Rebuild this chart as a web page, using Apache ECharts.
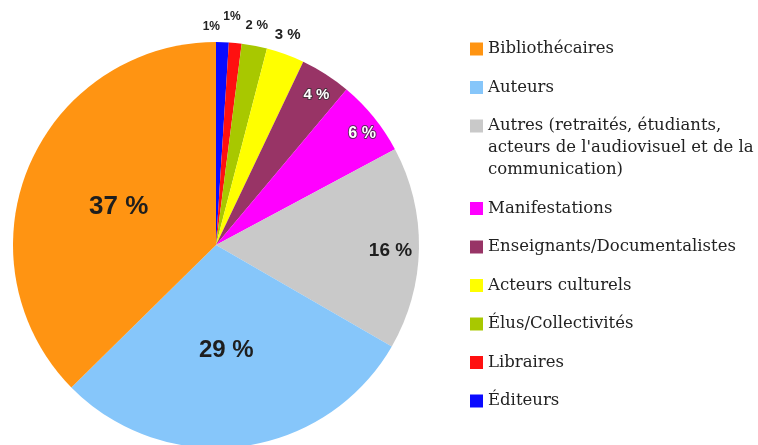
<!DOCTYPE html>
<html>
<head>
<meta charset="utf-8">
<script src="https://cdn.jsdelivr.net/npm/echarts@6/dist/echarts.min.js"></script>
<style>
  html, body { margin: 0; padding: 0; background: #fff; }
  #chart { width: 758px; height: 445px; }
</style>
</head>
<body>
<div id="chart"></div>
<script>
// Categories in clockwise order from 12 o'clock
const categories = [
  'Éditeurs',
  'Libraires',
  'Élus/Collectivités',
  'Acteurs culturels',
  'Enseignants/Documentalistes',
  'Manifestations',
  "Autres (retraités, étudiants,\nacteurs de l'audiovisuel et de la\ncommunication)",
  'Auteurs',
  'Bibliothécaires'
];
const shares = [1, 1, 2, 3, 4, 6, 16, 29, 37];
const colors = ['#0a0aff', '#ff1010', '#a8c800', '#ffff00', '#983466', '#ff00ff', '#c9c9c9', '#86c6fa', '#ff9412'];

// Per-slice label styling (size, colour, nudge from the slice's mid-radius point)
const labelStyle = [
  { size: 12, color: '#222', offset: [-8, -114], space: false },
  { size: 12, color: '#222', offset: [6, -124], space: false },
  { size: 13, color: '#222', offset: [21, -117], space: true },
  { size: 15, color: '#222', offset: [36, -112], space: true },
  { size: 15, color: '#fff', offset: [44, -62], space: true, outline: true },
  { size: 16, color: '#fff', offset: [65, -46], space: true, outline: true },
  { size: 19, color: '#1e1e1e', offset: [70, 4], space: true },
  { size: 24, color: '#1e1e1e', offset: [-3, 2], space: true },
  { size: 26, color: '#1e1e1e', offset: [-1, 2], space: true }
];

const labelFont = '"Liberation Sans", Arial, sans-serif';
const legendFont = '"DejaVu Serif", serif';

const pieData = categories.map((name, i) => {
  const s = labelStyle[i];
  return {
    name: name,
    value: shares[i],
    itemStyle: { color: colors[i] },
    label: {
      show: true,
      position: 'inside',
      offset: s.offset,
      fontSize: s.size,
      fontWeight: 'bold',
      fontFamily: labelFont,
      color: s.color,
      textBorderColor: s.outline ? 'rgba(50,50,50,0.75)' : 'transparent',
      textBorderWidth: s.outline ? 2 : 0,
      formatter: s.space ? '{c} %' : '{c}%'
    }
  };
});

// Legend: listed from largest slice to smallest
const legendGraphics = [];
let rowY = 49;
categories.slice().reverse().forEach((name, k) => {
  const idx = categories.length - 1 - k;
  const lines = name.split('\n').length;
  legendGraphics.push({
    type: 'rect',
    shape: { x: 470, y: rowY - 6.5, width: 13, height: 13 },
    style: { fill: colors[idx] },
    silent: true
  });
  legendGraphics.push({
    type: 'text',
    x: 488,
    y: rowY - 11,
    style: {
      text: name,
      fontFamily: legendFont,
      fontSize: 16.5,
      lineHeight: 22,
      fill: '#222',
      verticalAlign: 'top'
    },
    silent: true
  });
  rowY += 38.5 + (lines - 1) * 22;
});

const chart = echarts.init(document.getElementById('chart'), null, { renderer: 'canvas' });
chart.setOption({
  animation: false,
  backgroundColor: '#ffffff',
  series: [{
    type: 'pie',
    center: [216, 245],
    radius: [0, 203],
    startAngle: 90,
    clockwise: true,
    avoidLabelOverlap: false,
    labelLine: { show: false },
    emphasis: { disabled: true },
    data: pieData
  }],
  graphic: legendGraphics
});
</script>
</body>
</html>
